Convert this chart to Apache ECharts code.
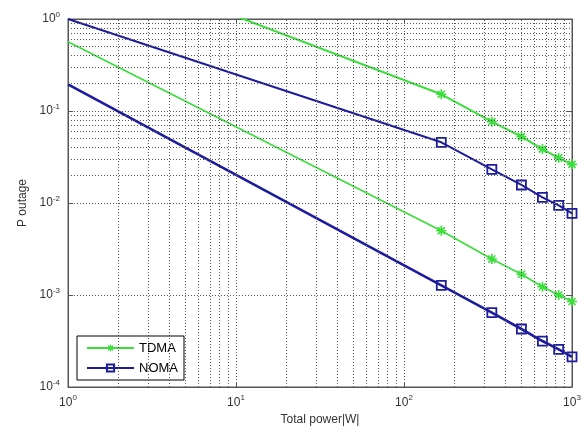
<!DOCTYPE html>
<html lang="en">
<head>
<meta charset="UTF-8" />
<title>P outage vs total power</title>
<script src="https://cdn.jsdelivr.net/npm/echarts@6/dist/echarts.min.js"></script>
<style>
  * { margin: 0; padding: 0; }
  body { background: #fff; }
  #chart { width: 586px; height: 434px; }
</style>
</head>
<body>
<div id="chart"></div>
<script>
// values
const powerW = [1, 166.7, 333.3, 500, 666.7, 833.3, 1000];
const tdmaHigh = [5.3, 0.152, 0.0765, 0.0526, 0.0386, 0.031, 0.0263];
const tdmaLow = [0.567, 0.005, 0.00246, 0.00168, 0.00123, 0.001, 0.00085];
const nomaHigh = [1.0, 0.0457, 0.0232, 0.0157, 0.0115, 0.0094, 0.0077];
const nomaLow = [0.195, 0.00127, 0.000643, 0.000427, 0.000316, 0.000257, 0.000213];

const xDecades = [1, 10, 100];
const yDecades = [0.0001, 0.001, 0.01, 0.1];

const green = '#3ade3a';
const blue = '#1c1c9c';
const font = "'Liberation Sans', Arial, sans-serif";

// minor grid positions 2..9 inside each decade
const minorOf = function (decades) {
    const out = [];
    decades.forEach(function (d) {
        for (let k = 2; k <= 9; k++) out.push(+(d * k).toPrecision(3));
    });
    return out;
};
const xMinor = minorOf(xDecades);
const yMinor = minorOf(yDecades);

const pairs = function (ys) {
    return powerW.map(function (x, i) {
        return i === 0 ? { value: [x, ys[i]], symbol: 'none' } : [x, ys[i]];
    });
};

const star = 'path://M-1.6,-10L1.6,-10L1.6,10L-1.6,10Z M-10,-1.6L10,-1.6L10,1.6L-10,1.6Z ' +
    'M-8.2,-5.9L-5.9,-8.2L8.2,5.9L5.9,8.2Z M5.9,-8.2L8.2,-5.9L-5.9,8.2L-8.2,5.9Z';

const powLabel = function (v) {
    return '{b|10}{s|' + Math.round(Math.log10(v)) + '}';
};
const labelRich = {
    b: { fontSize: 12, fontFamily: font, color: '#333' },
    s: { fontSize: 8, fontFamily: font, color: '#333', padding: [0, 0, 9, 0] }
};

const gridLine = { color: '#555', width: 1, type: [1, 2] };

const myChart = echarts.init(document.getElementById('chart'));

const option = {
    animation: false,
    backgroundColor: '#fff',
    grid: {
        left: 68, right: 14, top: 19, bottom: 47,
        show: true, borderColor: '#555', borderWidth: 1, backgroundColor: '#fff'
    },
    legend: {
        data: ['TDMA', 'NOMA'],
        orient: 'vertical',
        left: 77, top: 336,
        itemWidth: 47, itemHeight: 9, itemGap: 4,
        padding: [4, 6, 4, 9],
        borderColor: '#000', borderWidth: 1,
        backgroundColor: '#fff',
        textStyle: { fontSize: 13, fontFamily: font, color: '#000', lineHeight: 16 }
    },
    xAxis: [{
        type: 'log', logBase: 10, min: 1, max: 1000,
        name: 'Total power|W|', nameLocation: 'middle', nameGap: 24,
        nameTextStyle: { fontSize: 12, fontFamily: font, color: '#333' },
        axisLine: { lineStyle: { color: '#555' } },
        axisTick: { inside: true, length: 5, lineStyle: { color: '#555' } },
        axisLabel: { formatter: powLabel, rich: labelRich, margin: 7 },
        splitLine: { show: true, lineStyle: gridLine }
    }, {
        type: 'log', logBase: 10, min: 1, max: 1000, position: 'top',
        axisLine: { lineStyle: { color: '#555' } },
        axisTick: { inside: true, length: 5, lineStyle: { color: '#555' } },
        axisLabel: { show: false },
        splitLine: { show: false }
    }],
    yAxis: [{
        type: 'log', logBase: 10, min: 0.0001, max: 1,
        name: 'P outage', nameLocation: 'middle', nameGap: 33,
        nameTextStyle: { fontSize: 12, fontFamily: font, color: '#333' },
        axisLine: { lineStyle: { color: '#555' } },
        axisTick: { inside: true, length: 5, lineStyle: { color: '#555' } },
        axisLabel: { formatter: powLabel, rich: labelRich, margin: 8 },
        splitLine: { show: true, lineStyle: gridLine }
    }, {
        type: 'log', logBase: 10, min: 0.0001, max: 1, position: 'right',
        axisLine: { lineStyle: { color: '#555' } },
        axisTick: { inside: true, length: 5, lineStyle: { color: '#555' } },
        axisLabel: { show: false },
        splitLine: { show: false }
    }],
    series: [{
        type: 'line', name: 'minor grid', data: [], z: 1, silent: true,
        markLine: {
            silent: true, symbol: 'none', animation: false,
            label: { show: false },
            lineStyle: gridLine,
            data: xMinor.map(function (v) { return { xAxis: v }; })
                .concat(yMinor.map(function (v) { return { yAxis: v }; }))
        }
    }, {
        name: 'TDMA', type: 'line', data: pairs(tdmaHigh), z: 3,
        symbol: star, symbolSize: 10,
        lineStyle: { color: green, width: 2 },
        itemStyle: { color: green }
    }, {
        name: 'NOMA', type: 'line', data: pairs(nomaHigh), z: 3,
        symbol: 'rect', symbolSize: 9,
        lineStyle: { color: blue, width: 2 },
        itemStyle: { color: 'rgba(255,255,255,0)', borderColor: blue, borderWidth: 1.8 }
    }, {
        name: 'TDMA', type: 'line', data: pairs(tdmaLow), z: 3,
        symbol: star, symbolSize: 10,
        lineStyle: { color: green, width: 1.6 },
        itemStyle: { color: green }
    }, {
        name: 'NOMA', type: 'line', data: pairs(nomaLow), z: 3,
        symbol: 'rect', symbolSize: 9,
        lineStyle: { color: blue, width: 2.6 },
        itemStyle: { color: 'rgba(255,255,255,0)', borderColor: blue, borderWidth: 1.8 }
    }]
};

option && myChart.setOption(option);
</script>
</body>
</html>
